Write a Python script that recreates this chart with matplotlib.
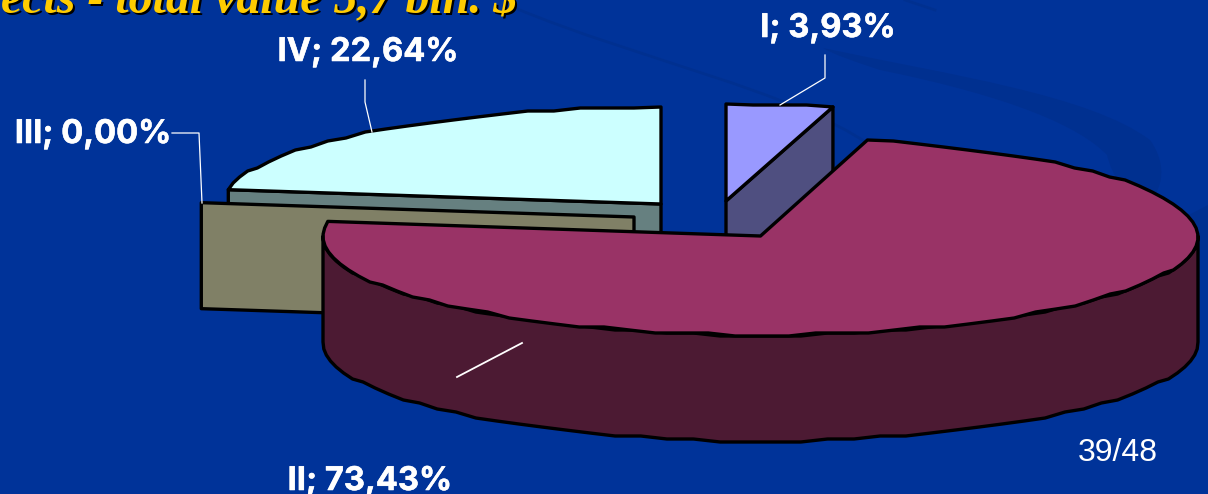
import numpy as np
import matplotlib
matplotlib.use('Agg')
import matplotlib.pyplot as plt
import matplotlib.patheffects as pe
from matplotlib.path import Path
from matplotlib.patches import PathPatch, Polygon

names = ['I', 'II', 'III', 'IV']
shares = [3.93, 73.43, 0.00, 22.64]
title = 'ects - total value 5,7 bln. $'
page = '39/48'

top_colors = ['#9999ff', '#993366', '#ffffcc', '#ccffff']
side_colors = ['#4f4f80', '#4c1a33', '#808066', '#668080']
BG = '#003399'
BAND = '#003090'

# pie geometry in pixels
RX, DEPTH = 437.5, 106.0
RY = {'I': 97.0, 'II': 99.0, 'III': 97.0, 'IV': 97.0}
centers = {'I': (726, 201), 'II': (760.5, 236), 'III': (634, 217), 'IV': (661, 204)}


def rim(name, a0, a1):
    # a0, a1 are degrees clockwise from 12 o'clock; coarse steps and snapping
    # give the outline its low resolution look
    cx, cy = centers[name]
    n = max(2, int(abs(a1 - a0) / 3.5) + 1)
    a = np.radians(np.linspace(a0, a1, n))
    x = cx + RX * np.sin(a)
    y = cy - RY[name] * np.cos(a)
    y[1:-1] = np.round(y[1:-1] / 3.0) * 3.0
    return np.column_stack([x, y])


fig = plt.figure(figsize=(12.08, 4.94), dpi=100, facecolor=BG)
ax = fig.add_axes([0, 0, 1, 1])
ax.set_xlim(0, 1208)
ax.set_ylim(494, 0)
ax.axis('off')

# background swooshes
band = Path([(823, 48), (950, 75), (1090, 95), (1150, 140), (1168, 165), (1162, 190), (1150, 200),
             (1125, 200), (1112, 175), (1107, 155), (1080, 127), (1013, 97), (880, 70),
             (850, 60), (835, 55), (823, 48)],
            [Path.MOVETO] + [Path.CURVE4] * 15)
ax.add_patch(PathPatch(band, fc=BAND, ec='none', zorder=1))
thin = Path([(515, 8), (640, 60), (790, 90), (870, 145)],
            [Path.MOVETO, Path.CURVE4, Path.CURVE4, Path.CURVE4])
ax.add_patch(PathPatch(thin, fc='none', ec=BAND, lw=2.0, zorder=1))
ax.add_patch(Polygon([(1183, 218), (1208, 205), (1208, 250), (1190, 250)], fc=BAND, ec='none', zorder=1))
ax.plot([905, 935], [0, 10], color=BAND, lw=2.0, zorder=1)

# title, cut by the top edge
ax.text(519, 14, title, family='Liberation Serif', weight='bold', style='italic', fontsize=34.5,
        color='black', ha='right', va='baseline', zorder=2)
ax.text(517, 12, title, family='Liberation Serif', weight='bold', style='italic', fontsize=34.5,
        color='#ffcc00', ha='right', va='baseline', zorder=3)

# slice angles follow from the shares
total = sum(shares)
edges = np.concatenate([[0], np.cumsum(shares)]) / total * 360.0
angles = {n: (edges[i], edges[i + 1]) for i, n in enumerate(names)}
colors = {n: (top_colors[i], side_colors[i]) for i, n in enumerate(names)}
LW = 2.4


def poly(pts, fc, z):
    ax.add_patch(Polygon(pts, closed=True, fc=fc, ec='black', lw=LW, joinstyle='round', zorder=z))


def radial_face(name, angle, z):
    cx, cy = centers[name]
    a = np.radians(angle)
    ox, oy = cx + RX * np.sin(a), cy - RY[name] * np.cos(a)
    poly([(cx, cy), (ox, oy), (ox, oy + DEPTH), (cx, cy + DEPTH)], colors[name][1], z)


def top_face(name, z):
    cx, cy = centers[name]
    a0, a1 = angles[name]
    poly(np.vstack([[(cx, cy)], rim(name, a0, a1)]), colors[name][0], z)


# IV at the back, then the empty III, then I, then II on top of them
radial_face('IV', angles['IV'][0], 5)
top_face('IV', 6)
radial_face('III', angles['III'][0], 7)
radial_face('I', angles['I'][1], 8)
top_face('I', 9)

# only the near half of the rim has a visible wall
front = rim('II', 90.0, 270.0)
wall = np.vstack([front, (front + [0, DEPTH])[::-1]])
poly(wall, colors['II'][1], 10)
top_face('II', 11)

# leader lines and labels
leaders = [[(825, 55), (825, 78), (780, 105)],
           [(365, 80), (365, 102), (372, 132)],
           [(172, 133), (199, 133), (202, 203)]]
for seg in leaders:
    xs, ys = zip(*seg)
    ax.plot(xs, ys, color='white', lw=0.9, zorder=12)
ax.plot([522, 457], [343, 377], color='white', lw=1.3, zorder=12)

label_pos = {'I': (828, 37), 'II': (370, 490), 'III': (93, 143), 'IV': (368, 61)}
for n, s in zip(names, shares):
    txt = '%s; %s%%' % (n, ('%.2f' % s).replace('.', ','))
    ax.text(*label_pos[n], txt, family='Inter', weight='bold', fontsize=23.5, color='white',
            ha='center', va='baseline', zorder=13,
            path_effects=[pe.withStroke(linewidth=0.4, foreground='white')])

ax.text(1118, 461, page, family='Liberation Sans', fontsize=23, color='white', ha='center', va='baseline', zorder=13)

fig.savefig('out.png', dpi=100, facecolor=BG)
plt.close(fig)
